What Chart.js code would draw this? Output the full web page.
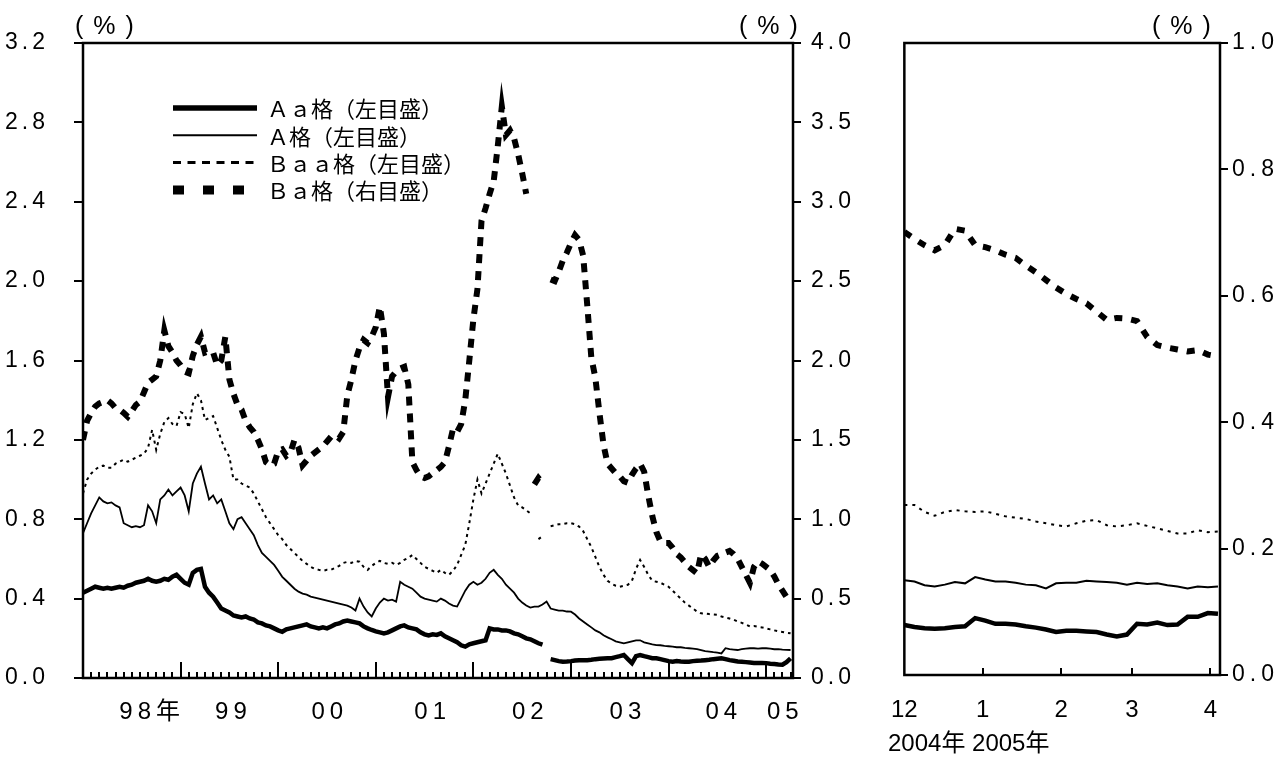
<!DOCTYPE html>
<html>
<head>
<meta charset="utf-8">
<script src="https://cdn.jsdelivr.net/npm/chart.js@4.4.1/dist/chart.umd.min.js"></script>
<style>
  html, body { margin: 0; padding: 0; background: #fff; }
  body { width: 1281px; height: 757px; position: relative; overflow: hidden; }
  #wrapLeft { position: absolute; left: 0; top: 0; width: 870px; height: 757px; }
  #wrapRight { position: absolute; left: 870px; top: 0; width: 411px; height: 757px; }
</style>
</head>
<body>
<div id="wrapLeft"><canvas id="leftChart"></canvas></div>
<div id="wrapRight"><canvas id="rightChart"></canvas></div>
<script>
// --- left panel: Jan 1998 - Apr 2005, half-month steps (months since Jan 1998)
const months = [];
for (let i = 0; i <= 174; i++) months.push(i / 2);

const yearLabels = ["98年", "99", "00", "01", "02", "03", "04", "05"];
const yearLabelAt = [8.5, 18.5, 30.35, 43, 55, 67, 78.8, 86.35];
const leftTicks = [0, 0.4, 0.8, 1.2, 1.6, 2.0, 2.4, 2.8, 3.2];
const rightTicks = [0, 0.5, 1.0, 1.5, 2.0, 2.5, 3.0, 3.5, 4.0];

// one row per year (24 half-months), last row Jan-Apr 2005
const aaSpread = [
  0.43, 0.44, 0.45, 0.46, 0.455, 0.45, 0.455, 0.45, 0.455, 0.46, 0.455, 0.465, 0.47, 0.48, 0.485, 0.49, 0.50, 0.49, 0.485, 0.49, 0.50, 0.495, 0.51, 0.52,
  0.50, 0.48, 0.47, 0.53, 0.545, 0.55, 0.46, 0.43, 0.41, 0.38, 0.35, 0.34, 0.33, 0.315, 0.31, 0.305, 0.31, 0.30, 0.295, 0.28, 0.275, 0.265, 0.26, 0.25,
  0.24, 0.233, 0.245, 0.25, 0.255, 0.26, 0.265, 0.27, 0.26, 0.255, 0.25, 0.255, 0.25, 0.26, 0.27, 0.275, 0.285, 0.29, 0.285, 0.28, 0.275, 0.26, 0.25, 0.242,
  0.235, 0.23, 0.225, 0.23, 0.24, 0.25, 0.26, 0.265, 0.255, 0.25, 0.245, 0.23, 0.22, 0.215, 0.22, 0.217, 0.225, 0.21, 0.20, 0.19, 0.18, 0.165, 0.158, 0.17,
  0.175, 0.18, 0.185, 0.19, 0.25, 0.245, 0.245, 0.24, 0.24, 0.235, 0.225, 0.22, 0.21, 0.20, 0.195, 0.185, 0.175, 0.168, null, 0.095, 0.09, 0.085, 0.082, 0.083,
  0.085, 0.088, 0.09, 0.09, 0.09, 0.092, 0.095, 0.097, 0.098, 0.099, 0.10, 0.105, 0.11, 0.116, 0.095, 0.075, 0.11, 0.116, 0.11, 0.105, 0.10, 0.099, 0.095, 0.09,
  0.085, 0.082, 0.085, 0.083, 0.082, 0.082, 0.085, 0.087, 0.088, 0.09, 0.092, 0.095, 0.097, 0.099, 0.095, 0.09, 0.087, 0.083, 0.082, 0.08, 0.078, 0.076, 0.075, 0.076,
  0.075, 0.072, 0.07, 0.068, 0.067, 0.08, 0.099
];
const aSpread = [
  0.73, 0.78, 0.83, 0.87, 0.91, 0.89, 0.88, 0.885, 0.87, 0.86, 0.78, 0.77, 0.76, 0.765, 0.76, 0.77, 0.87, 0.84, 0.78, 0.90, 0.92, 0.95, 0.92, 0.94,
  0.96, 0.92, 0.84, 0.98, 1.03, 1.065, 0.98, 0.90, 0.92, 0.88, 0.90, 0.84, 0.78, 0.75, 0.80, 0.81, 0.78, 0.75, 0.72, 0.67, 0.63, 0.61, 0.59, 0.57,
  0.54, 0.51, 0.49, 0.47, 0.45, 0.435, 0.425, 0.42, 0.41, 0.405, 0.40, 0.395, 0.39, 0.385, 0.38, 0.375, 0.37, 0.365, 0.355, 0.34, 0.40, 0.36, 0.33, 0.31,
  0.35, 0.38, 0.40, 0.39, 0.395, 0.385, 0.485, 0.47, 0.46, 0.45, 0.43, 0.41, 0.40, 0.395, 0.39, 0.385, 0.40, 0.39, 0.375, 0.365, 0.36, 0.40, 0.44, 0.47,
  0.485, 0.47, 0.48, 0.50, 0.53, 0.545, 0.52, 0.50, 0.47, 0.45, 0.43, 0.40, 0.38, 0.365, 0.355, 0.36, 0.36, 0.37, 0.385, 0.35, 0.345, 0.34, 0.34, 0.335,
  0.334, 0.32, 0.30, 0.285, 0.27, 0.255, 0.24, 0.23, 0.215, 0.205, 0.195, 0.185, 0.18, 0.175, 0.18, 0.185, 0.19, 0.19, 0.18, 0.175, 0.17, 0.166, 0.165, 0.162,
  0.16, 0.158, 0.155, 0.155, 0.152, 0.15, 0.148, 0.145, 0.14, 0.135, 0.133, 0.13, 0.128, 0.124, 0.15, 0.145, 0.143, 0.141, 0.145, 0.148, 0.15, 0.15, 0.148, 0.15,
  0.15, 0.148, 0.145, 0.145, 0.143, 0.142, 0.141
];
const baaSpread = [
  0.93, 1.0, 1.03, 1.05, 1.065, 1.07, 1.06, 1.06, 1.08, 1.09, 1.10, 1.09, 1.10, 1.11, 1.12, 1.13, 1.16, 1.25, 1.15, 1.23, 1.29, 1.31, 1.28, 1.27,
  1.34, 1.33, 1.26, 1.38, 1.435, 1.40, 1.30, 1.31, 1.32, 1.26, 1.20, 1.15, 1.115, 1.0, 1.0, 0.98, 0.97, 0.96, 0.93, 0.89, 0.85, 0.81, 0.78, 0.75,
  0.72, 0.70, 0.67, 0.65, 0.63, 0.61, 0.59, 0.575, 0.56, 0.55, 0.545, 0.54, 0.545, 0.545, 0.555, 0.565, 0.58, 0.585, 0.58, 0.59, 0.586, 0.56, 0.545, 0.565,
  0.58, 0.59, 0.58, 0.575, 0.58, 0.57, 0.58, 0.595, 0.605, 0.62, 0.60, 0.58, 0.56, 0.55, 0.54, 0.53, 0.545, 0.53, 0.52, 0.54, 0.57, 0.62, 0.67, 0.78,
  0.90, 1.0, 0.93, 0.98, 1.03, 1.08, 1.13, 1.08, 1.03, 0.97, 0.91, 0.87, 0.86, 0.845, 0.83, null, 0.70, 0.715, null, 0.765, 0.77, 0.775, 0.775, 0.78,
  0.78, 0.775, 0.763, 0.74, 0.70, 0.66, 0.61, 0.56, 0.52, 0.49, 0.475, 0.465, 0.46, 0.465, 0.47, 0.49, 0.55, 0.595, 0.56, 0.52, 0.49, 0.485, 0.48, 0.47,
  0.46, 0.44, 0.42, 0.40, 0.38, 0.365, 0.35, 0.335, 0.326, 0.325, 0.322, 0.32, 0.318, 0.31, 0.305, 0.30, 0.294, 0.285, 0.278, 0.27, 0.26, 0.262, 0.258, 0.255,
  0.25, 0.245, 0.24, 0.235, 0.232, 0.228, 0.225
];
const baSpread = [
  1.50, 1.62, 1.67, 1.71, 1.73, 1.74, 1.75, 1.73, 1.70, 1.69, 1.67, 1.646, 1.68, 1.72, 1.74, 1.80, 1.86, 1.88, 1.90, 2.00, 2.19, 2.09, 2.05, 2.00,
  1.97, 1.93, 1.92, 2.03, 2.10, 2.15, 2.05, 2.06, 2.05, 1.97, 2.00, 2.15, 1.88, 1.79, 1.72, 1.69, 1.62, 1.58, 1.55, 1.50, 1.44, 1.36, 1.34, 1.35,
  1.43, 1.44, 1.40, 1.42, 1.50, 1.45, 1.34, 1.37, 1.40, 1.42, 1.44, 1.46, 1.49, 1.52, 1.53, 1.51, 1.55, 1.78, 1.88, 2.00, 2.08, 2.13, 2.11, 2.15,
  2.21, 2.34, 2.17, 1.77, 1.90, 1.93, 1.95, 1.96, 1.85, 1.36, 1.31, 1.27, 1.26, 1.27, 1.29, 1.31, 1.33, 1.36, 1.46, 1.57, 1.55, 1.60, 1.75, 2.00,
  2.26, 2.45, 2.88, 2.96, 3.05, 3.13, 3.35, 3.60, 3.42, 3.45, 3.40, 3.30, 3.18, 3.05, null, 1.22, 1.26, 1.23, null, 2.51, 2.50, 2.56, 2.63, 2.68,
  2.74, 2.79, 2.76, 2.66, 2.35, 2.02, 1.89, 1.67, 1.47, 1.35, 1.32, 1.29, 1.27, 1.24, 1.23, 1.28, 1.32, 1.35, 1.30, 1.15, 1.02, 0.92, 0.86, 0.85,
  0.85, 0.82, 0.78, 0.76, 0.73, 0.70, 0.68, 0.66, 0.78, 0.75, 0.70, 0.74, 0.77, 0.78, 0.79, 0.80, 0.78, 0.75, 0.70, 0.65, 0.60, 0.70, 0.735, 0.72,
  0.70, 0.68, 0.64, 0.59, 0.55, 0.51, 0.50
];

// --- right panel: Dec 2004 - early Apr 2005 (days since 1 Dec 2004)
const panelDays = [0, 4, 8, 12, 16, 20, 24, 28, 32, 36, 40, 44, 48, 52, 56, 60, 64, 68, 72, 76, 80, 84, 88, 92, 96, 100, 104, 108, 112, 116, 120, 124];
const panelMonthLabels = ["12", "1", "2", "3", "4"];
const panelMonthAt = [0, 31, 62, 90, 121];
const panelTicks = [0, 0.2, 0.4, 0.6, 0.8, 1.0];

const panelAa = [0.079, 0.076, 0.074, 0.073, 0.074, 0.076, 0.077, 0.090, 0.086, 0.081, 0.081, 0.080, 0.077, 0.075, 0.072, 0.068, 0.070, 0.070, 0.069, 0.068, 0.064, 0.061, 0.064, 0.081, 0.080, 0.083, 0.079, 0.080, 0.092, 0.092, 0.098, 0.097];
const panelA = [0.150, 0.148, 0.142, 0.140, 0.143, 0.147, 0.145, 0.155, 0.151, 0.148, 0.148, 0.146, 0.143, 0.142, 0.137, 0.145, 0.146, 0.146, 0.149, 0.148, 0.147, 0.146, 0.143, 0.146, 0.144, 0.145, 0.142, 0.140, 0.137, 0.140, 0.139, 0.140];
const panelBaa = [0.269, 0.269, 0.258, 0.252, 0.258, 0.261, 0.259, 0.258, 0.259, 0.255, 0.251, 0.249, 0.247, 0.243, 0.240, 0.237, 0.235, 0.240, 0.244, 0.245, 0.237, 0.235, 0.237, 0.240, 0.236, 0.232, 0.228, 0.224, 0.224, 0.229, 0.226, 0.227];
const panelBa = [0.701, 0.69, 0.68, 0.672, 0.68, 0.706, 0.703, 0.68, 0.677, 0.672, 0.665, 0.66, 0.648, 0.637, 0.625, 0.613, 0.603, 0.595, 0.588, 0.575, 0.562, 0.565, 0.564, 0.56, 0.535, 0.522, 0.518, 0.515, 0.512, 0.514, 0.507, 0.504];

const seriesNames = ["Ａａ格（左目盛）", "Ａ格（左目盛）", "Ｂａａ格（左目盛）", "Ｂａ格（右目盛）"];

const FONT = "'Liberation Sans', 'Noto Sans CJK JP', sans-serif";
const CJK = "'Noto Sans CJK JP', 'Liberation Sans', sans-serif";

function line(label, data, axis, width, dash, legendWidth, legendDash) {
  return {
    label: label,
    data: data,
    yAxisID: axis,
    borderColor: "#000",
    borderWidth: width,
    borderDash: dash,
    legendWidth: legendWidth,
    legendDash: legendDash,
    pointRadius: 0,
    fill: false,
    tension: 0,
    spanGaps: false,
  };
}

// letter spacing for axis labels, frame, inward x ticks, small texts, legend
const decor = {
  id: "decor",
  beforeDraw(chart, args, opts) {
    chart.ctx.letterSpacing = opts.spacingX + "px";
  },
  afterDatasetsDraw(chart, args, opts) {
    chart.ctx.letterSpacing = opts.spacingY + "px";
  },
  afterDraw(chart, args, opts) {
    const { ctx, chartArea, scales } = chart;
    const x = scales.x;
    ctx.save();
    ctx.strokeStyle = "#000";
    ctx.fillStyle = "#000";
    ctx.lineWidth = 2;
    ctx.beginPath();
    opts.ticks.forEach((t) => {
      const px = Math.round(x.getPixelForValue(t.v));
      ctx.moveTo(px, chartArea.bottom);
      ctx.lineTo(px, chartArea.bottom - t.len);
    });
    ctx.stroke();
    ctx.lineWidth = 2.5;
    ctx.strokeRect(chartArea.left, chartArea.top, chartArea.right - chartArea.left, chartArea.bottom - chartArea.top);

    opts.texts.forEach((t) => {
      ctx.letterSpacing = (t.spacing || 0) + "px";
      ctx.font = t.size + "px " + t.family;
      ctx.textAlign = "left";
      ctx.textBaseline = "middle";
      ctx.fillText(t.text, t.x, t.y);
    });
    ctx.letterSpacing = "0px";

    if (opts.legend) {
      const lg = opts.legend;
      chart.data.datasets.forEach((ds, i) => {
        const y = lg.y + i * lg.step;
        ctx.beginPath();
        ctx.lineWidth = ds.legendWidth;
        ctx.setLineDash(ds.legendDash);
        ctx.moveTo(lg.x, y);
        ctx.lineTo(lg.x + lg.len, y);
        ctx.stroke();
        ctx.setLineDash([]);
        ctx.font = lg.size + "px " + CJK;
        ctx.textAlign = "left";
        ctx.textBaseline = "middle";
        ctx.fillText(ds.label, lg.x + lg.len + 10, y + 1);
      });
    }
    ctx.restore();
  },
};

const yFont = { family: FONT, size: 23 };
const xFont = { family: FONT, size: 24 };

const monthTicks = [];
for (let m = 1; m <= 87; m++) monthTicks.push({ v: m, len: m % 12 === 0 ? 16 : 6 });

new Chart(document.getElementById("leftChart"), {
  type: "line",
  data: {
    labels: months,
    datasets: [
      line(seriesNames[0], aaSpread, "y", 4.5, [], 5.5, []),
      line(seriesNames[1], aSpread, "y", 1.8, [], 2, []),
      line(seriesNames[2], baaSpread, "y", 2, [3, 4], 3, [8, 6.5]),
      line(seriesNames[3], baSpread, "y2", 6, [9, 8], 9, [11, 19]),
    ],
  },
  options: {
    responsive: true,
    maintainAspectRatio: false,
    animation: false,
    devicePixelRatio: 1,
    layout: { padding: { top: 43, left: 0, right: 0, bottom: 0 } },
    plugins: {
      legend: { display: false },
      tooltip: { enabled: false },
      decor: {
        spacingX: 5,
        spacingY: 4,
        ticks: monthTicks,
        texts: [
          { text: "(%)", x: 75, y: 27, size: 25, family: FONT, spacing: 10 },
          { text: "(%)", x: 739, y: 27, size: 25, family: FONT, spacing: 10 },
        ],
        legend: { x: 173, y: 108, step: 27.3, len: 84, size: 22 },
      },
    },
    scales: {
      x: {
        type: "linear",
        min: 0,
        max: 87.3,
        afterBuildTicks: (s) => { s.ticks = yearLabelAt.map((v) => ({ value: v })); },
        afterFit: (s) => { s.height = 79; },
        ticks: {
          callback: (v, i) => yearLabels[i],
          font: xFont,
          color: "#000",
          padding: 20,
          autoSkip: false,
          maxRotation: 0,
        },
        grid: { display: false, drawTicks: false },
        border: { display: false },
      },
      y: {
        position: "left",
        min: 0,
        max: 3.2,
        afterBuildTicks: (s) => { s.ticks = leftTicks.map((v) => ({ value: v })); },
        afterFit: (s) => { s.width = 83; },
        ticks: { callback: (v) => v.toFixed(1), font: yFont, color: "#000", padding: 25, z: 1 },
        grid: { drawOnChartArea: false, drawTicks: true, tickLength: 9, color: "#000", lineWidth: 2 },
        border: { display: false },
      },
      y2: {
        position: "right",
        min: 0,
        max: 4.0,
        afterBuildTicks: (s) => { s.ticks = rightTicks.map((v) => ({ value: v })); },
        afterFit: (s) => { s.width = 77; },
        ticks: { callback: (v) => v.toFixed(1), font: yFont, color: "#000", padding: 10, z: 1 },
        grid: { drawOnChartArea: false, drawTicks: true, tickLength: 8, color: "#000", lineWidth: 2 },
        border: { display: false },
      },
    },
  },
  plugins: [decor],
});

new Chart(document.getElementById("rightChart"), {
  type: "line",
  data: {
    labels: panelDays,
    datasets: [
      line(seriesNames[0], panelAa, "y", 4.5, [], 4.5, []),
      line(seriesNames[1], panelA, "y", 2, [], 2, []),
      line(seriesNames[2], panelBaa, "y", 2, [3, 5], 2, []),
      line(seriesNames[3], panelBa, "y", 6, [8, 9], 6, []),
    ],
  },
  options: {
    responsive: true,
    maintainAspectRatio: false,
    animation: false,
    devicePixelRatio: 1,
    layout: { padding: { top: 43, left: 28, right: 0, bottom: 0 } },
    plugins: {
      legend: { display: false },
      tooltip: { enabled: false },
      decor: {
        spacingX: 0,
        spacingY: 5,
        ticks: panelMonthAt.slice(1).map((v) => ({ v: v, len: 7 })),
        texts: [
          { text: "(%)", x: 282, y: 27, size: 25, family: FONT, spacing: 10 },
          { text: "2004年 2005年", x: 18, y: 744, size: 24, family: FONT, spacing: 0 },
        ],
        legend: null,
      },
    },
    scales: {
      x: {
        type: "linear",
        min: 0,
        max: 124.8,
        afterBuildTicks: (s) => { s.ticks = panelMonthAt.map((v) => ({ value: v })); },
        afterFit: (s) => { s.height = 82; },
        ticks: {
          callback: (v, i) => panelMonthLabels[i],
          font: xFont,
          color: "#000",
          padding: 21,
          autoSkip: false,
          maxRotation: 0,
        },
        grid: { display: false, drawTicks: false },
        border: { display: false },
      },
      y: {
        position: "right",
        min: 0,
        max: 1.0,
        afterBuildTicks: (s) => { s.ticks = panelTicks.map((v) => ({ value: v })); },
        afterFit: (s) => { s.width = 61; },
        ticks: { callback: (v) => v.toFixed(1), font: yFont, color: "#000", padding: 4, z: 1 },
        grid: { drawOnChartArea: false, drawTicks: true, tickLength: 8, color: "#000", lineWidth: 2 },
        border: { display: false },
      },
    },
  },
  plugins: [decor],
});
</script>
</body>
</html>
